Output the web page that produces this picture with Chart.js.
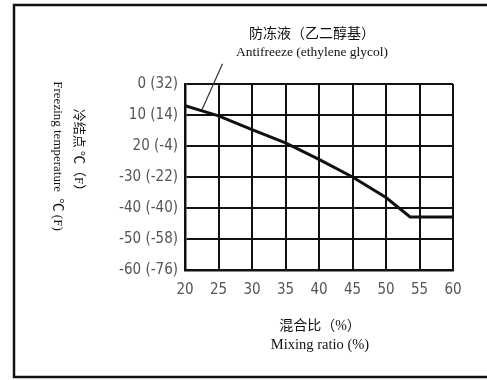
<html>
<head>
<script src="https://cdn.jsdelivr.net/npm/chart.js@4.4.1/dist/chart.umd.min.js"></script>
<style>
  body { margin: 0; background: #fff; }
  #wrap { width: 487px; height: 380px; position: relative; }
</style>
</head>
<body>
<div id="wrap"><canvas id="myChart"></canvas></div>
<script>
// mixing ratio (%) vs freezing point (C)
var mixRatio = [20, 25, 30, 35, 40, 45, 50, 53.6, 60];
var freezeC = [-7, -10.3, -14.7, -19, -24.3, -30, -36.6, -42.9, -42.9];
// the little pointer line from the label to the curve
var leaderX = [22.5, 25.6];
var leaderY = [-8.5, 6.5];
var yTickValues = [0, -10, -20, -30, -40, -50, -60];
var yTickLabels = ['0 (32)', '10 (14)', '20 (-4)', '-30 (-22)', '-40 (-40)', '-50 (-58)', '-60 (-76)'];
var xTicks = [20, 25, 30, 35, 40, 45, 50, 55, 60];

var serif = "'Liberation Serif', 'Noto Sans CJK SC', serif";
var tickFont = "'Liberation Sans Narrow', 'DejaVu Sans Condensed', sans-serif";

var extras = {
    id: 'extras',
    beforeDraw: function(chart) {
        var c = chart.ctx;
        c.save();
        c.fillStyle = '#fff';
        c.fillRect(0, 0, chart.width, chart.height);
        // outer frame (left, top, bottom)
        c.strokeStyle = '#111';
        c.lineWidth = 2.5;
        c.beginPath();
        c.moveTo(490, 5);
        c.lineTo(14, 5);
        c.lineTo(14, 377);
        c.lineTo(490, 377);
        c.stroke();
        c.restore();
    },
    afterDraw: function(chart) {
        var c = chart.ctx;
        c.save();
        c.fillStyle = '#111';
        c.textAlign = 'center';
        c.textBaseline = 'middle';
        c.font = '14px ' + serif;
        c.fillText('防冻液（乙二醇基）', 312, 34);
        c.font = '13.5px ' + serif;
        c.fillText('Antifreeze (ethylene glycol)', 312, 52);
        c.font = '14px ' + serif;
        c.fillText('混合比（%）', 320, 326);
        c.font = '14.5px ' + serif;
        c.fillText('Mixing ratio (%)', 320, 345);
        c.font = '13px ' + serif;
        c.translate(57, 156);
        c.rotate(Math.PI / 2);
        c.fillText('Freezing temperature  ℃ (F)', 0, 0);
        c.restore();
        c.save();
        c.fillStyle = '#111';
        c.textAlign = 'center';
        c.textBaseline = 'middle';
        c.font = '13px ' + serif;
        c.translate(78, 153);
        c.rotate(Math.PI / 2);
        c.fillText('冷结点 ℃（F）', 0, 0);
        c.restore();
    }
};

var ctx = document.getElementById('myChart').getContext('2d');
var chart = new Chart(ctx, {
    type: 'line',
    data: {
        datasets: [
            {
                data: mixRatio.map((x, i) => ({ x: x, y: freezeC[i] })),
                borderColor: '#111',
                borderWidth: 3,
                pointRadius: 0,
                fill: false,
                tension: 0
            },
            {
                data: leaderX.map((x, i) => ({ x: x, y: leaderY[i] })),
                borderColor: '#333',
                borderWidth: 1.2,
                pointRadius: 0,
                fill: false,
                clip: false
            }
        ]
    },
    options: {
        responsive: true,
        maintainAspectRatio: false,
        animation: false,
        layout: { padding: { left: 20, top: 84, right: 34, bottom: 10 } },
        plugins: { legend: { display: false }, tooltip: { enabled: false } },
        scales: {
            x: {
                type: 'linear',
                min: 20,
                max: 60,
                afterBuildTicks: function(s) { s.ticks = xTicks.map(v => ({ value: v })); },
                afterFit: function(s) { s.height = 100; },
                grid: { color: '#111', lineWidth: 2, drawTicks: false },
                border: { color: '#111', width: 2.5 },
                ticks: {
                    padding: 11,
                    color: '#555',
                    font: { family: tickFont, size: 15 }
                }
            },
            y: {
                min: -60,
                max: 0,
                afterBuildTicks: function(s) { s.ticks = yTickValues.map(v => ({ value: v })); },
                afterFit: function(s) { s.width = 165; },
                grid: { color: '#111', lineWidth: 2, drawTicks: false },
                border: { color: '#111', width: 2.5 },
                ticks: {
                    padding: 7,
                    color: '#555',
                    font: { family: tickFont, size: 15 },
                    callback: function(v) {
                        var i = yTickValues.indexOf(v);
                        return i >= 0 ? yTickLabels[i] : '';
                    }
                }
            }
        }
    },
    plugins: [extras]
});
</script>
</body>
</html>
